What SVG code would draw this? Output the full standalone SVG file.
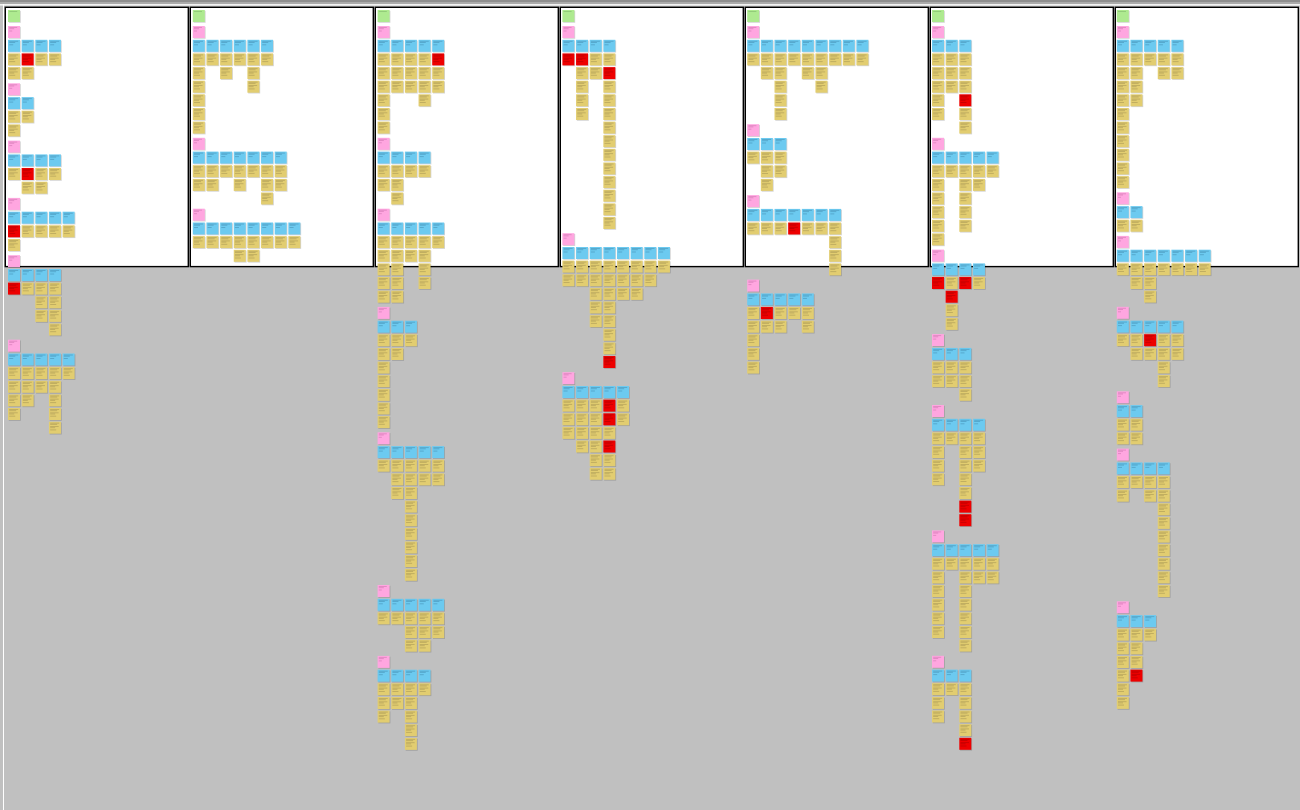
<svg xmlns="http://www.w3.org/2000/svg" xmlns:xlink="http://www.w3.org/1999/xlink" width="1300" height="810" viewBox="0 0 1300 810">
<style>
.s{fill:#000;opacity:.17}
.fy{fill:#e2cd70}.fb{fill:#6ccaf0}.fp{fill:#ffa6e0}.fg{fill:#aeea90}.fr{fill:#ee0000}
.t{fill:none;stroke-width:.45}
.ty{stroke:#5b5030;opacity:.55}.tb{stroke:#1c4d70;opacity:.6}.tp{stroke:#8a3070;opacity:.55}.tg{stroke:#3c6a30;opacity:.55}.tr{stroke:#600000;opacity:.6}
.pan{fill:#fff;stroke:#000;stroke-width:1.4}
</style>
<defs>
<g id="Y"><rect class="s" x=".8" y=".8" width="12" height="12"/><rect class="fy" width="12" height="12"/><path class="t ty" d="M1.2 1.5h9M1.2 2.7h7M1.2 4.8h8.5M1.2 6h5M1.2 8.2h6"/></g>
<g id="R"><rect class="s" x=".8" y=".8" width="12" height="12"/><rect class="fr" width="12" height="12"/><path class="t tr" d="M1.2 1.5h9M1.2 2.7h7M1.2 4.8h8.5M1.2 6h5M1.2 8.2h6"/></g>
<g id="B"><rect class="s" x=".8" y=".8" width="12" height="12"/><rect class="fb" width="12" height="12"/><path class="t tb" d="M1.2 1.5h9M1.2 2.7h6M1.2 5h4"/></g>
<g id="P"><rect class="s" x=".8" y=".8" width="12" height="12"/><rect class="fp" width="12" height="12"/><path class="t tp" d="M1.2 1.5h8M1.2 2.7h5M1.2 5h3"/></g>
<g id="G"><rect class="s" x=".8" y=".8" width="12" height="12"/><rect class="fg" width="12" height="12"/><path class="t tg" d="M1.2 1.5h8"/></g>
</defs>
<rect width="1300" height="810" fill="#c0c0c0"/>
<rect width="1300" height="2" fill="#8e8e8e"/>
<rect y="2" width="1300" height="2.2" fill="#ababab"/>
<rect y="4.2" width="1300" height="1.3" fill="#fff"/>
<rect x="3" y="4" width="1" height="806" fill="#fff"/>
<g id="panels">
<rect class="pan" x="5.3" y="7.3" width="183" height="259.3"/>
<rect class="pan" x="190.3" y="7.3" width="183" height="259.3"/>
<rect class="pan" x="375.3" y="7.3" width="183" height="259.3"/>
<rect class="pan" x="560.3" y="7.3" width="183" height="259.3"/>
<rect class="pan" x="745.3" y="7.3" width="183" height="259.3"/>
<rect class="pan" x="930.3" y="7.3" width="183" height="259.3"/>
<rect class="pan" x="1115.3" y="7.3" width="183" height="259.3"/>
</g>
<g id="connectors"></g>

<!-- Column A -->
<g id="a0" transform="translate(8 10)"><use id="a0g" href="#G"/></g>
<g id="a1" transform="translate(8 26)">
<use id="a1p" href="#P"/>
<use id="a1b0" href="#B" y="13.8"/><use id="a1b1" href="#B" x="13.65" y="13.8"/><use id="a1b2" href="#B" x="27.3" y="13.8"/><use id="a1b3" href="#B" x="40.95" y="13.8"/>
<use id="a1r1c0" href="#Y" y="27.4"/><use id="a1r1c1" href="#R" x="13.65" y="27.4"/><use id="a1r1c2" href="#Y" x="27.3" y="27.4"/><use id="a1r1c3" href="#Y" x="40.95" y="27.4"/>
<use id="a1r2c0" href="#Y" y="41.1"/><use id="a1r2c1" href="#Y" x="13.65" y="41.1"/>
</g>
<g id="a2" transform="translate(8 83.3)">
<use id="a2p" href="#P"/>
<use id="a2b0" href="#B" y="13.8"/><use id="a2b1" href="#B" x="13.65" y="13.8"/>
<use id="a2r1c0" href="#Y" y="27.4"/><use id="a2r1c1" href="#Y" x="13.65" y="27.4"/>
<use id="a2r2c0" href="#Y" y="41.1"/>
</g>
<g id="a3" transform="translate(8 140.6)">
<use id="a3p" href="#P"/>
<use id="a3b0" href="#B" y="13.8"/><use id="a3b1" href="#B" x="13.65" y="13.8"/><use id="a3b2" href="#B" x="27.3" y="13.8"/><use id="a3b3" href="#B" x="40.95" y="13.8"/>
<use id="a3r1c0" href="#Y" y="27.4"/><use id="a3r1c1" href="#R" x="13.65" y="27.4"/><use id="a3r1c2" href="#Y" x="27.3" y="27.4"/><use id="a3r1c3" href="#Y" x="40.95" y="27.4"/>
<use id="a3r2c1" href="#Y" x="13.65" y="41.1"/><use id="a3r2c2" href="#Y" x="27.3" y="41.1"/>
</g>
<g id="a4" transform="translate(8 197.9)">
<use id="a4p" href="#P"/>
<use id="a4b0" href="#B" y="13.8"/><use id="a4b1" href="#B" x="13.65" y="13.8"/><use id="a4b2" href="#B" x="27.3" y="13.8"/><use id="a4b3" href="#B" x="40.95" y="13.8"/><use id="a4b4" href="#B" x="54.6" y="13.8"/>
<use id="a4r1c0" href="#R" y="27.4"/><use id="a4r1c1" href="#Y" x="13.65" y="27.4"/><use id="a4r1c2" href="#Y" x="27.3" y="27.4"/><use id="a4r1c3" href="#Y" x="40.95" y="27.4"/><use id="a4r1c4" href="#Y" x="54.6" y="27.4"/>
<use id="a4r2c0" href="#Y" y="41.1"/>
</g>
<g id="a5" transform="translate(8 255.2)">
<use id="a5p" href="#P"/>
<use id="a5b0" href="#B" y="13.8"/><use id="a5b1" href="#B" x="13.65" y="13.8"/><use id="a5b2" href="#B" x="27.3" y="13.8"/><use id="a5b3" href="#B" x="40.95" y="13.8"/>
<use id="a5r1c0" href="#R" y="27.4"/><use id="a5r1c1" href="#Y" x="13.65" y="27.4"/><use id="a5r1c2" href="#Y" x="27.3" y="27.4"/><use id="a5r1c3" href="#Y" x="40.95" y="27.4"/>
<use id="a5r2c2" href="#Y" x="27.3" y="41.1"/><use id="a5r2c3" href="#Y" x="40.95" y="41.1"/>
<use id="a5r3c2" href="#Y" x="27.3" y="54.7"/><use id="a5r3c3" href="#Y" x="40.95" y="54.7"/>
<use id="a5r4c3" href="#Y" x="40.95" y="68.3"/>
</g>
<g id="a6" transform="translate(8 339.7)">
<use id="a6p" href="#P"/>
<use id="a6b0" href="#B" y="13.8"/><use id="a6b1" href="#B" x="13.65" y="13.8"/><use id="a6b2" href="#B" x="27.3" y="13.8"/><use id="a6b3" href="#B" x="40.95" y="13.8"/><use id="a6b4" href="#B" x="54.6" y="13.8"/>
<use id="a6r1c0" href="#Y" y="27.4"/><use id="a6r1c1" href="#Y" x="13.65" y="27.4"/><use id="a6r1c2" href="#Y" x="27.3" y="27.4"/><use id="a6r1c3" href="#Y" x="40.95" y="27.4"/><use id="a6r1c4" href="#Y" x="54.6" y="27.4"/>
<use id="a6r2c0" href="#Y" y="41.1"/><use id="a6r2c1" href="#Y" x="13.65" y="41.1"/><use id="a6r2c2" href="#Y" x="27.3" y="41.1"/><use id="a6r2c3" href="#Y" x="40.95" y="41.1"/>
<use id="a6r3c0" href="#Y" y="54.7"/><use id="a6r3c1" href="#Y" x="13.65" y="54.7"/><use id="a6r3c3" href="#Y" x="40.95" y="54.7"/>
<use id="a6r4c0" href="#Y" y="68.3"/><use id="a6r4c3" href="#Y" x="40.95" y="68.3"/>
<use id="a6r5c3" href="#Y" x="40.95" y="82"/>
</g>

<!-- Column B -->
<g id="b0" transform="translate(192.8 10)"><use id="b0g" href="#G"/></g>
<g id="b1" transform="translate(192.8 26)">
<use id="b1p" href="#P"/>
<use id="b1b0" href="#B" y="13.8"/><use id="b1b1" href="#B" x="13.65" y="13.8"/><use id="b1b2" href="#B" x="27.3" y="13.8"/><use id="b1b3" href="#B" x="40.95" y="13.8"/><use id="b1b4" href="#B" x="54.6" y="13.8"/><use id="b1b5" href="#B" x="68.25" y="13.8"/>
<use id="b1r1c0" href="#Y" y="27.4"/><use id="b1r1c1" href="#Y" x="13.65" y="27.4"/><use id="b1r1c2" href="#Y" x="27.3" y="27.4"/><use id="b1r1c3" href="#Y" x="40.95" y="27.4"/><use id="b1r1c4" href="#Y" x="54.6" y="27.4"/><use id="b1r1c5" href="#Y" x="68.25" y="27.4"/>
<use id="b1r2c0" href="#Y" y="41.1"/><use id="b1r2c2" href="#Y" x="27.3" y="41.1"/><use id="b1r2c4" href="#Y" x="54.6" y="41.1"/>
<use id="b1r3c0" href="#Y" y="54.7"/><use id="b1r3c4" href="#Y" x="54.6" y="54.7"/>
<use id="b1r4c0" href="#Y" y="68.3"/>
<use id="b1r5c0" href="#Y" y="82"/>
<use id="b1r6c0" href="#Y" y="95.6"/>
</g>
<g id="b2" transform="translate(192.8 137.8)">
<use id="b2p" href="#P"/>
<use id="b2b0" href="#B" y="13.8"/><use id="b2b1" href="#B" x="13.65" y="13.8"/><use id="b2b2" href="#B" x="27.3" y="13.8"/><use id="b2b3" href="#B" x="40.95" y="13.8"/><use id="b2b4" href="#B" x="54.6" y="13.8"/><use id="b2b5" href="#B" x="68.25" y="13.8"/><use id="b2b6" href="#B" x="81.9" y="13.8"/>
<use id="b2r1c0" href="#Y" y="27.4"/><use id="b2r1c1" href="#Y" x="13.65" y="27.4"/><use id="b2r1c2" href="#Y" x="27.3" y="27.4"/><use id="b2r1c3" href="#Y" x="40.95" y="27.4"/><use id="b2r1c4" href="#Y" x="54.6" y="27.4"/><use id="b2r1c5" href="#Y" x="68.25" y="27.4"/><use id="b2r1c6" href="#Y" x="81.9" y="27.4"/>
<use id="b2r2c0" href="#Y" y="41.1"/><use id="b2r2c1" href="#Y" x="13.65" y="41.1"/><use id="b2r2c3" href="#Y" x="40.95" y="41.1"/><use id="b2r2c5" href="#Y" x="68.25" y="41.1"/><use id="b2r2c6" href="#Y" x="81.9" y="41.1"/>
<use id="b2r3c5" href="#Y" x="68.25" y="54.7"/>
</g>
<g id="b3" transform="translate(192.8 208.7)">
<use id="b3p" href="#P"/>
<use id="b3b0" href="#B" y="13.8"/><use id="b3b1" href="#B" x="13.65" y="13.8"/><use id="b3b2" href="#B" x="27.3" y="13.8"/><use id="b3b3" href="#B" x="40.95" y="13.8"/><use id="b3b4" href="#B" x="54.6" y="13.8"/><use id="b3b5" href="#B" x="68.25" y="13.8"/><use id="b3b6" href="#B" x="81.9" y="13.8"/><use id="b3b7" href="#B" x="95.55" y="13.8"/>
<use id="b3r1c0" href="#Y" y="27.4"/><use id="b3r1c1" href="#Y" x="13.65" y="27.4"/><use id="b3r1c2" href="#Y" x="27.3" y="27.4"/><use id="b3r1c3" href="#Y" x="40.95" y="27.4"/><use id="b3r1c4" href="#Y" x="54.6" y="27.4"/><use id="b3r1c5" href="#Y" x="68.25" y="27.4"/><use id="b3r1c6" href="#Y" x="81.9" y="27.4"/><use id="b3r1c7" href="#Y" x="95.55" y="27.4"/>
<use id="b3r2c3" href="#Y" x="40.95" y="41.1"/><use id="b3r2c4" href="#Y" x="54.6" y="41.1"/>
</g>

<!-- Column C -->
<g id="c0" transform="translate(377.6 10)"><use id="c0g" href="#G"/></g>
<g id="c1" transform="translate(377.6 26)">
<use id="c1p" href="#P"/>
<use id="c1b0" href="#B" y="13.8"/><use id="c1b1" href="#B" x="13.65" y="13.8"/><use id="c1b2" href="#B" x="27.3" y="13.8"/><use id="c1b3" href="#B" x="40.95" y="13.8"/><use id="c1b4" href="#B" x="54.6" y="13.8"/>
<use id="c1r1c0" href="#Y" y="27.4"/><use id="c1r1c1" href="#Y" x="13.65" y="27.4"/><use id="c1r1c2" href="#Y" x="27.3" y="27.4"/><use id="c1r1c3" href="#Y" x="40.95" y="27.4"/><use id="c1r1c4" href="#R" x="54.6" y="27.4"/>
<use id="c1r2c0" href="#Y" y="41.1"/><use id="c1r2c1" href="#Y" x="13.65" y="41.1"/><use id="c1r2c2" href="#Y" x="27.3" y="41.1"/><use id="c1r2c3" href="#Y" x="40.95" y="41.1"/><use id="c1r2c4" href="#Y" x="54.6" y="41.1"/>
<use id="c1r3c0" href="#Y" y="54.7"/><use id="c1r3c1" href="#Y" x="13.65" y="54.7"/><use id="c1r3c2" href="#Y" x="27.3" y="54.7"/><use id="c1r3c3" href="#Y" x="40.95" y="54.7"/><use id="c1r3c4" href="#Y" x="54.6" y="54.7"/>
<use id="c1r4c0" href="#Y" y="68.3"/><use id="c1r4c3" href="#Y" x="40.95" y="68.3"/>
<use id="c1r5c0" href="#Y" y="82"/>
<use id="c1r6c0" href="#Y" y="95.6"/>
</g>
<g id="c2" transform="translate(377.6 137.8)">
<use id="c2p" href="#P"/>
<use id="c2b0" href="#B" y="13.8"/><use id="c2b1" href="#B" x="13.65" y="13.8"/><use id="c2b2" href="#B" x="27.3" y="13.8"/><use id="c2b3" href="#B" x="40.95" y="13.8"/>
<use id="c2r1c0" href="#Y" y="27.4"/><use id="c2r1c1" href="#Y" x="13.65" y="27.4"/><use id="c2r1c2" href="#Y" x="27.3" y="27.4"/><use id="c2r1c3" href="#Y" x="40.95" y="27.4"/>
<use id="c2r2c0" href="#Y" y="41.1"/><use id="c2r2c1" href="#Y" x="13.65" y="41.1"/>
<use id="c2r3c1" href="#Y" x="13.65" y="54.7"/>
</g>
<g id="c3" transform="translate(377.6 208.7)">
<use id="c3p" href="#P"/>
<use id="c3b0" href="#B" y="13.8"/><use id="c3b1" href="#B" x="13.65" y="13.8"/><use id="c3b2" href="#B" x="27.3" y="13.8"/><use id="c3b3" href="#B" x="40.95" y="13.8"/><use id="c3b4" href="#B" x="54.6" y="13.8"/>
<use id="c3r1c0" href="#Y" y="27.4"/><use id="c3r1c1" href="#Y" x="13.65" y="27.4"/><use id="c3r1c2" href="#Y" x="27.3" y="27.4"/><use id="c3r1c3" href="#Y" x="40.95" y="27.4"/><use id="c3r1c4" href="#Y" x="54.6" y="27.4"/>
<use id="c3r2c0" href="#Y" y="41.1"/><use id="c3r2c1" href="#Y" x="13.65" y="41.1"/><use id="c3r2c2" href="#Y" x="27.3" y="41.1"/><use id="c3r2c3" href="#Y" x="40.95" y="41.1"/>
<use id="c3r3c0" href="#Y" y="54.7"/><use id="c3r3c1" href="#Y" x="13.65" y="54.7"/><use id="c3r3c3" href="#Y" x="40.95" y="54.7"/>
<use id="c3r4c0" href="#Y" y="68.3"/><use id="c3r4c1" href="#Y" x="13.65" y="68.3"/><use id="c3r4c3" href="#Y" x="40.95" y="68.3"/>
<use id="c3r5c0" href="#Y" y="82"/><use id="c3r5c1" href="#Y" x="13.65" y="82"/>
</g>
<g id="c4" transform="translate(377.6 306.9)">
<use id="c4p" href="#P"/>
<use id="c4b0" href="#B" y="13.8"/><use id="c4b1" href="#B" x="13.65" y="13.8"/><use id="c4b2" href="#B" x="27.3" y="13.8"/>
<use id="c4r1c0" href="#Y" y="27.4"/><use id="c4r1c1" href="#Y" x="13.65" y="27.4"/><use id="c4r1c2" href="#Y" x="27.3" y="27.4"/>
<use id="c4r2c0" href="#Y" y="41.1"/><use id="c4r2c1" href="#Y" x="13.65" y="41.1"/>
<use id="c4r3c0" href="#Y" y="54.7"/>
<use id="c4r4c0" href="#Y" y="68.3"/>
<use id="c4r5c0" href="#Y" y="82"/>
<use id="c4r6c0" href="#Y" y="95.6"/>
<use id="c4r7c0" href="#Y" y="109.2"/>
</g>
<g id="c5" transform="translate(377.6 432.3)">
<use id="c5p" href="#P"/>
<use id="c5b0" href="#B" y="13.8"/><use id="c5b1" href="#B" x="13.65" y="13.8"/><use id="c5b2" href="#B" x="27.3" y="13.8"/><use id="c5b3" href="#B" x="40.95" y="13.8"/><use id="c5b4" href="#B" x="54.6" y="13.8"/>
<use id="c5r1c0" href="#Y" y="27.4"/><use id="c5r1c1" href="#Y" x="13.65" y="27.4"/><use id="c5r1c2" href="#Y" x="27.3" y="27.4"/><use id="c5r1c3" href="#Y" x="40.95" y="27.4"/><use id="c5r1c4" href="#Y" x="54.6" y="27.4"/>
<use id="c5r2c1" href="#Y" x="13.65" y="41.1"/><use id="c5r2c2" href="#Y" x="27.3" y="41.1"/><use id="c5r2c3" href="#Y" x="40.95" y="41.1"/><use id="c5r2c4" href="#Y" x="54.6" y="41.1"/>
<use id="c5r3c1" href="#Y" x="13.65" y="54.7"/><use id="c5r3c2" href="#Y" x="27.3" y="54.7"/>
<use id="c5r4c2" href="#Y" x="27.3" y="68.3"/>
<use id="c5r5c2" href="#Y" x="27.3" y="82"/>
<use id="c5r6c2" href="#Y" x="27.3" y="95.6"/>
<use id="c5r7c2" href="#Y" x="27.3" y="109.2"/>
<use id="c5r8c2" href="#Y" x="27.3" y="122.8"/>
<use id="c5r9c2" href="#Y" x="27.3" y="136.5"/>
</g>
<g id="c6" transform="translate(377.6 585)">
<use id="c6p" href="#P"/>
<use id="c6b0" href="#B" y="13.8"/><use id="c6b1" href="#B" x="13.65" y="13.8"/><use id="c6b2" href="#B" x="27.3" y="13.8"/><use id="c6b3" href="#B" x="40.95" y="13.8"/><use id="c6b4" href="#B" x="54.6" y="13.8"/>
<use id="c6r1c0" href="#Y" y="27.4"/><use id="c6r1c1" href="#Y" x="13.65" y="27.4"/><use id="c6r1c2" href="#Y" x="27.3" y="27.4"/><use id="c6r1c3" href="#Y" x="40.95" y="27.4"/><use id="c6r1c4" href="#Y" x="54.6" y="27.4"/>
<use id="c6r2c2" href="#Y" x="27.3" y="41.1"/><use id="c6r2c3" href="#Y" x="40.95" y="41.1"/><use id="c6r2c4" href="#Y" x="54.6" y="41.1"/>
<use id="c6r3c2" href="#Y" x="27.3" y="54.7"/><use id="c6r3c3" href="#Y" x="40.95" y="54.7"/>
</g>
<g id="c7" transform="translate(377.6 655.9)">
<use id="c7p" href="#P"/>
<use id="c7b0" href="#B" y="13.8"/><use id="c7b1" href="#B" x="13.65" y="13.8"/><use id="c7b2" href="#B" x="27.3" y="13.8"/><use id="c7b3" href="#B" x="40.95" y="13.8"/>
<use id="c7r1c0" href="#Y" y="27.4"/><use id="c7r1c1" href="#Y" x="13.65" y="27.4"/><use id="c7r1c2" href="#Y" x="27.3" y="27.4"/><use id="c7r1c3" href="#Y" x="40.95" y="27.4"/>
<use id="c7r2c0" href="#Y" y="41.1"/><use id="c7r2c1" href="#Y" x="13.65" y="41.1"/><use id="c7r2c2" href="#Y" x="27.3" y="41.1"/>
<use id="c7r3c0" href="#Y" y="54.7"/><use id="c7r3c2" href="#Y" x="27.3" y="54.7"/>
<use id="c7r4c2" href="#Y" x="27.3" y="68.3"/>
<use id="c7r5c2" href="#Y" x="27.3" y="82"/>
</g>

<!-- Column D -->
<g id="d0" transform="translate(562.4 10)"><use id="d0g" href="#G"/></g>
<g id="d1" transform="translate(562.4 26)">
<use id="d1p" href="#P"/>
<use id="d1b0" href="#B" y="13.8"/><use id="d1b1" href="#B" x="13.65" y="13.8"/><use id="d1b2" href="#B" x="27.3" y="13.8"/><use id="d1b3" href="#B" x="40.95" y="13.8"/>
<use id="d1r1c0" href="#R" y="27.4"/><use id="d1r1c1" href="#R" x="13.65" y="27.4"/><use id="d1r1c2" href="#Y" x="27.3" y="27.4"/><use id="d1r1c3" href="#Y" x="40.95" y="27.4"/>
<use id="d1r2c1" href="#Y" x="13.65" y="41.1"/><use id="d1r2c2" href="#Y" x="27.3" y="41.1"/><use id="d1r2c3" href="#R" x="40.95" y="41.1"/>
<use id="d1r3c1" href="#Y" x="13.65" y="54.7"/><use id="d1r3c3" href="#Y" x="40.95" y="54.7"/>
<use id="d1r4c1" href="#Y" x="13.65" y="68.3"/><use id="d1r4c3" href="#Y" x="40.95" y="68.3"/>
<use id="d1r5c1" href="#Y" x="13.65" y="82"/><use id="d1r5c3" href="#Y" x="40.95" y="82"/>
<use id="d1r6c3" href="#Y" x="40.95" y="95.6"/>
<use id="d1r7c3" href="#Y" x="40.95" y="109.2"/>
<use id="d1r8c3" href="#Y" x="40.95" y="122.8"/>
<use id="d1r9c3" href="#Y" x="40.95" y="136.5"/>
<use id="d1r10c3" href="#Y" x="40.95" y="150.1"/>
<use id="d1r11c3" href="#Y" x="40.95" y="163.7"/>
<use id="d1r12c3" href="#Y" x="40.95" y="177.4"/>
<use id="d1r13c3" href="#Y" x="40.95" y="191"/>
</g>
<g id="d2" transform="translate(562.4 233.2)">
<use id="d2p" href="#P"/>
<use id="d2b0" href="#B" y="13.8"/><use id="d2b1" href="#B" x="13.65" y="13.8"/><use id="d2b2" href="#B" x="27.3" y="13.8"/><use id="d2b3" href="#B" x="40.95" y="13.8"/><use id="d2b4" href="#B" x="54.6" y="13.8"/><use id="d2b5" href="#B" x="68.25" y="13.8"/><use id="d2b6" href="#B" x="81.9" y="13.8"/><use id="d2b7" href="#B" x="95.55" y="13.8"/>
<use id="d2r1c0" href="#Y" y="27.4"/><use id="d2r1c1" href="#Y" x="13.65" y="27.4"/><use id="d2r1c2" href="#Y" x="27.3" y="27.4"/><use id="d2r1c3" href="#Y" x="40.95" y="27.4"/><use id="d2r1c4" href="#Y" x="54.6" y="27.4"/><use id="d2r1c5" href="#Y" x="68.25" y="27.4"/><use id="d2r1c6" href="#Y" x="81.9" y="27.4"/><use id="d2r1c7" href="#Y" x="95.55" y="27.4"/>
<use id="d2r2c0" href="#Y" y="41.1"/><use id="d2r2c1" href="#Y" x="13.65" y="41.1"/><use id="d2r2c2" href="#Y" x="27.3" y="41.1"/><use id="d2r2c3" href="#Y" x="40.95" y="41.1"/><use id="d2r2c4" href="#Y" x="54.6" y="41.1"/><use id="d2r2c5" href="#Y" x="68.25" y="41.1"/><use id="d2r2c6" href="#Y" x="81.9" y="41.1"/>
<use id="d2r3c2" href="#Y" x="27.3" y="54.7"/><use id="d2r3c3" href="#Y" x="40.95" y="54.7"/><use id="d2r3c4" href="#Y" x="54.6" y="54.7"/><use id="d2r3c5" href="#Y" x="68.25" y="54.7"/>
<use id="d2r4c2" href="#Y" x="27.3" y="68.3"/><use id="d2r4c3" href="#Y" x="40.95" y="68.3"/>
<use id="d2r5c2" href="#Y" x="27.3" y="82"/><use id="d2r5c3" href="#Y" x="40.95" y="82"/>
<use id="d2r6c3" href="#Y" x="40.95" y="95.6"/>
<use id="d2r7c3" href="#Y" x="40.95" y="109.2"/>
<use id="d2r8c3" href="#R" x="40.95" y="122.8"/>
</g>
<g id="d3" transform="translate(562.4 372.2)">
<use id="d3p" href="#P"/>
<use id="d3b0" href="#B" y="13.8"/><use id="d3b1" href="#B" x="13.65" y="13.8"/><use id="d3b2" href="#B" x="27.3" y="13.8"/><use id="d3b3" href="#B" x="40.95" y="13.8"/><use id="d3b4" href="#B" x="54.6" y="13.8"/>
<use id="d3r1c0" href="#Y" y="27.4"/><use id="d3r1c1" href="#Y" x="13.65" y="27.4"/><use id="d3r1c2" href="#Y" x="27.3" y="27.4"/><use id="d3r1c3" href="#R" x="40.95" y="27.4"/><use id="d3r1c4" href="#Y" x="54.6" y="27.4"/>
<use id="d3r2c0" href="#Y" y="41.1"/><use id="d3r2c1" href="#Y" x="13.65" y="41.1"/><use id="d3r2c2" href="#Y" x="27.3" y="41.1"/><use id="d3r2c3" href="#R" x="40.95" y="41.1"/><use id="d3r2c4" href="#Y" x="54.6" y="41.1"/>
<use id="d3r3c0" href="#Y" y="54.7"/><use id="d3r3c1" href="#Y" x="13.65" y="54.7"/><use id="d3r3c2" href="#Y" x="27.3" y="54.7"/><use id="d3r3c3" href="#Y" x="40.95" y="54.7"/>
<use id="d3r4c1" href="#Y" x="13.65" y="68.3"/><use id="d3r4c2" href="#Y" x="27.3" y="68.3"/><use id="d3r4c3" href="#R" x="40.95" y="68.3"/>
<use id="d3r5c2" href="#Y" x="27.3" y="82"/><use id="d3r5c3" href="#Y" x="40.95" y="82"/>
<use id="d3r6c2" href="#Y" x="27.3" y="95.6"/><use id="d3r6c3" href="#Y" x="40.95" y="95.6"/>
</g>

<!-- Column E -->
<g id="e0" transform="translate(747.2 10)"><use id="e0g" href="#G"/></g>
<g id="e1" transform="translate(747.2 26)">
<use id="e1p" href="#P"/>
<use id="e1b0" href="#B" y="13.8"/><use id="e1b1" href="#B" x="13.65" y="13.8"/><use id="e1b2" href="#B" x="27.3" y="13.8"/><use id="e1b3" href="#B" x="40.95" y="13.8"/><use id="e1b4" href="#B" x="54.6" y="13.8"/><use id="e1b5" href="#B" x="68.25" y="13.8"/><use id="e1b6" href="#B" x="81.9" y="13.8"/><use id="e1b7" href="#B" x="95.55" y="13.8"/><use id="e1b8" href="#B" x="109.2" y="13.8"/>
<use id="e1r1c0" href="#Y" y="27.4"/><use id="e1r1c1" href="#Y" x="13.65" y="27.4"/><use id="e1r1c2" href="#Y" x="27.3" y="27.4"/><use id="e1r1c3" href="#Y" x="40.95" y="27.4"/><use id="e1r1c4" href="#Y" x="54.6" y="27.4"/><use id="e1r1c5" href="#Y" x="68.25" y="27.4"/><use id="e1r1c6" href="#Y" x="81.9" y="27.4"/><use id="e1r1c7" href="#Y" x="95.55" y="27.4"/><use id="e1r1c8" href="#Y" x="109.2" y="27.4"/>
<use id="e1r2c1" href="#Y" x="13.65" y="41.1"/><use id="e1r2c2" href="#Y" x="27.3" y="41.1"/><use id="e1r2c4" href="#Y" x="54.6" y="41.1"/><use id="e1r2c5" href="#Y" x="68.25" y="41.1"/>
<use id="e1r3c2" href="#Y" x="27.3" y="54.7"/><use id="e1r3c5" href="#Y" x="68.25" y="54.7"/>
<use id="e1r4c2" href="#Y" x="27.3" y="68.3"/>
<use id="e1r5c2" href="#Y" x="27.3" y="82"/>
</g>
<g id="e2" transform="translate(747.2 124.2)">
<use id="e2p" href="#P"/>
<use id="e2b0" href="#B" y="13.8"/><use id="e2b1" href="#B" x="13.65" y="13.8"/><use id="e2b2" href="#B" x="27.3" y="13.8"/>
<use id="e2r1c0" href="#Y" y="27.4"/><use id="e2r1c1" href="#Y" x="13.65" y="27.4"/><use id="e2r1c2" href="#Y" x="27.3" y="27.4"/>
<use id="e2r2c1" href="#Y" x="13.65" y="41.1"/><use id="e2r2c2" href="#Y" x="27.3" y="41.1"/>
<use id="e2r3c1" href="#Y" x="13.65" y="54.7"/>
</g>
<g id="e3" transform="translate(747.2 195.1)">
<use id="e3p" href="#P"/>
<use id="e3b0" href="#B" y="13.8"/><use id="e3b1" href="#B" x="13.65" y="13.8"/><use id="e3b2" href="#B" x="27.3" y="13.8"/><use id="e3b3" href="#B" x="40.95" y="13.8"/><use id="e3b4" href="#B" x="54.6" y="13.8"/><use id="e3b5" href="#B" x="68.25" y="13.8"/><use id="e3b6" href="#B" x="81.9" y="13.8"/>
<use id="e3r1c0" href="#Y" y="27.4"/><use id="e3r1c1" href="#Y" x="13.65" y="27.4"/><use id="e3r1c2" href="#Y" x="27.3" y="27.4"/><use id="e3r1c3" href="#R" x="40.95" y="27.4"/><use id="e3r1c4" href="#Y" x="54.6" y="27.4"/><use id="e3r1c5" href="#Y" x="68.25" y="27.4"/><use id="e3r1c6" href="#Y" x="81.9" y="27.4"/>
<use id="e3r2c6" href="#Y" x="81.9" y="41.1"/>
<use id="e3r3c6" href="#Y" x="81.9" y="54.7"/>
<use id="e3r4c6" href="#Y" x="81.9" y="68.3"/>
</g>
<g id="e4" transform="translate(747.2 279.6)">
<use id="e4p" href="#P"/>
<use id="e4b0" href="#B" y="13.8"/><use id="e4b1" href="#B" x="13.65" y="13.8"/><use id="e4b2" href="#B" x="27.3" y="13.8"/><use id="e4b3" href="#B" x="40.95" y="13.8"/><use id="e4b4" href="#B" x="54.6" y="13.8"/>
<use id="e4r1c0" href="#Y" y="27.4"/><use id="e4r1c1" href="#R" x="13.65" y="27.4"/><use id="e4r1c2" href="#Y" x="27.3" y="27.4"/><use id="e4r1c3" href="#Y" x="40.95" y="27.4"/><use id="e4r1c4" href="#Y" x="54.6" y="27.4"/>
<use id="e4r2c0" href="#Y" y="41.1"/><use id="e4r2c1" href="#Y" x="13.65" y="41.1"/><use id="e4r2c2" href="#Y" x="27.3" y="41.1"/><use id="e4r2c4" href="#Y" x="54.6" y="41.1"/>
<use id="e4r3c0" href="#Y" y="54.7"/>
<use id="e4r4c0" href="#Y" y="68.3"/>
<use id="e4r5c0" href="#Y" y="82"/>
</g>

<!-- Column F -->
<g id="f0" transform="translate(932 10)"><use id="f0g" href="#G"/></g>
<g id="f1" transform="translate(932 26)">
<use id="f1p" href="#P"/>
<use id="f1b0" href="#B" y="13.8"/><use id="f1b1" href="#B" x="13.65" y="13.8"/><use id="f1b2" href="#B" x="27.3" y="13.8"/>
<use id="f1r1c0" href="#Y" y="27.4"/><use id="f1r1c1" href="#Y" x="13.65" y="27.4"/><use id="f1r1c2" href="#Y" x="27.3" y="27.4"/>
<use id="f1r2c0" href="#Y" y="41.1"/><use id="f1r2c1" href="#Y" x="13.65" y="41.1"/><use id="f1r2c2" href="#Y" x="27.3" y="41.1"/>
<use id="f1r3c0" href="#Y" y="54.7"/><use id="f1r3c1" href="#Y" x="13.65" y="54.7"/><use id="f1r3c2" href="#Y" x="27.3" y="54.7"/>
<use id="f1r4c0" href="#Y" y="68.3"/><use id="f1r4c2" href="#R" x="27.3" y="68.3"/>
<use id="f1r5c0" href="#Y" y="82"/><use id="f1r5c2" href="#Y" x="27.3" y="82"/>
<use id="f1r6c2" href="#Y" x="27.3" y="95.6"/>
</g>
<g id="f2" transform="translate(932 137.8)">
<use id="f2p" href="#P"/>
<use id="f2b0" href="#B" y="13.8"/><use id="f2b1" href="#B" x="13.65" y="13.8"/><use id="f2b2" href="#B" x="27.3" y="13.8"/><use id="f2b3" href="#B" x="40.95" y="13.8"/><use id="f2b4" href="#B" x="54.6" y="13.8"/>
<use id="f2r1c0" href="#Y" y="27.4"/><use id="f2r1c1" href="#Y" x="13.65" y="27.4"/><use id="f2r1c2" href="#Y" x="27.3" y="27.4"/><use id="f2r1c3" href="#Y" x="40.95" y="27.4"/><use id="f2r1c4" href="#Y" x="54.6" y="27.4"/>
<use id="f2r2c0" href="#Y" y="41.1"/><use id="f2r2c2" href="#Y" x="27.3" y="41.1"/><use id="f2r2c3" href="#Y" x="40.95" y="41.1"/>
<use id="f2r3c0" href="#Y" y="54.7"/><use id="f2r3c2" href="#Y" x="27.3" y="54.7"/>
<use id="f2r4c0" href="#Y" y="68.3"/><use id="f2r4c2" href="#Y" x="27.3" y="68.3"/>
<use id="f2r5c0" href="#Y" y="82"/><use id="f2r5c2" href="#Y" x="27.3" y="82"/>
<use id="f2r6c0" href="#Y" y="95.6"/>
</g>
<g id="f3" transform="translate(932 249.6)">
<use id="f3p" href="#P"/>
<use id="f3b0" href="#B" y="13.8"/><use id="f3b1" href="#B" x="13.65" y="13.8"/><use id="f3b2" href="#B" x="27.3" y="13.8"/><use id="f3b3" href="#B" x="40.95" y="13.8"/>
<use id="f3r1c0" href="#R" y="27.4"/><use id="f3r1c1" href="#Y" x="13.65" y="27.4"/><use id="f3r1c2" href="#R" x="27.3" y="27.4"/><use id="f3r1c3" href="#Y" x="40.95" y="27.4"/>
<use id="f3r2c1" href="#R" x="13.65" y="41.1"/>
<use id="f3r3c1" href="#Y" x="13.65" y="54.7"/>
<use id="f3r4c1" href="#Y" x="13.65" y="68.3"/>
</g>
<g id="f4" transform="translate(932 334.1)">
<use id="f4p" href="#P"/>
<use id="f4b0" href="#B" y="13.8"/><use id="f4b1" href="#B" x="13.65" y="13.8"/><use id="f4b2" href="#B" x="27.3" y="13.8"/>
<use id="f4r1c0" href="#Y" y="27.4"/><use id="f4r1c1" href="#Y" x="13.65" y="27.4"/><use id="f4r1c2" href="#Y" x="27.3" y="27.4"/>
<use id="f4r2c0" href="#Y" y="41.1"/><use id="f4r2c1" href="#Y" x="13.65" y="41.1"/><use id="f4r2c2" href="#Y" x="27.3" y="41.1"/>
<use id="f4r3c2" href="#Y" x="27.3" y="54.7"/>
</g>
<g id="f5" transform="translate(932 405)">
<use id="f5p" href="#P"/>
<use id="f5b0" href="#B" y="13.8"/><use id="f5b1" href="#B" x="13.65" y="13.8"/><use id="f5b2" href="#B" x="27.3" y="13.8"/><use id="f5b3" href="#B" x="40.95" y="13.8"/>
<use id="f5r1c0" href="#Y" y="27.4"/><use id="f5r1c1" href="#Y" x="13.65" y="27.4"/><use id="f5r1c2" href="#Y" x="27.3" y="27.4"/><use id="f5r1c3" href="#Y" x="40.95" y="27.4"/>
<use id="f5r2c0" href="#Y" y="41.1"/><use id="f5r2c2" href="#Y" x="27.3" y="41.1"/><use id="f5r2c3" href="#Y" x="40.95" y="41.1"/>
<use id="f5r3c0" href="#Y" y="54.7"/><use id="f5r3c2" href="#Y" x="27.3" y="54.7"/><use id="f5r3c3" href="#Y" x="40.95" y="54.7"/>
<use id="f5r4c0" href="#Y" y="68.3"/><use id="f5r4c2" href="#Y" x="27.3" y="68.3"/>
<use id="f5r5c2" href="#Y" x="27.3" y="82"/>
<use id="f5r6c2" href="#R" x="27.3" y="95.6"/>
<use id="f5r7c2" href="#R" x="27.3" y="109.2"/>
</g>
<g id="f6" transform="translate(932 530.4)">
<use id="f6p" href="#P"/>
<use id="f6b0" href="#B" y="13.8"/><use id="f6b1" href="#B" x="13.65" y="13.8"/><use id="f6b2" href="#B" x="27.3" y="13.8"/><use id="f6b3" href="#B" x="40.95" y="13.8"/><use id="f6b4" href="#B" x="54.6" y="13.8"/>
<use id="f6r1c0" href="#Y" y="27.4"/><use id="f6r1c1" href="#Y" x="13.65" y="27.4"/><use id="f6r1c2" href="#Y" x="27.3" y="27.4"/><use id="f6r1c3" href="#Y" x="40.95" y="27.4"/><use id="f6r1c4" href="#Y" x="54.6" y="27.4"/>
<use id="f6r2c0" href="#Y" y="41.1"/><use id="f6r2c2" href="#Y" x="27.3" y="41.1"/><use id="f6r2c3" href="#Y" x="40.95" y="41.1"/><use id="f6r2c4" href="#Y" x="54.6" y="41.1"/>
<use id="f6r3c0" href="#Y" y="54.7"/><use id="f6r3c2" href="#Y" x="27.3" y="54.7"/>
<use id="f6r4c0" href="#Y" y="68.3"/><use id="f6r4c2" href="#Y" x="27.3" y="68.3"/>
<use id="f6r5c0" href="#Y" y="82"/><use id="f6r5c2" href="#Y" x="27.3" y="82"/>
<use id="f6r6c0" href="#Y" y="95.6"/><use id="f6r6c2" href="#Y" x="27.3" y="95.6"/>
<use id="f6r7c2" href="#Y" x="27.3" y="109.2"/>
</g>
<g id="f7" transform="translate(932 655.8)">
<use id="f7p" href="#P"/>
<use id="f7b0" href="#B" y="13.8"/><use id="f7b1" href="#B" x="13.65" y="13.8"/><use id="f7b2" href="#B" x="27.3" y="13.8"/>
<use id="f7r1c0" href="#Y" y="27.4"/><use id="f7r1c1" href="#Y" x="13.65" y="27.4"/><use id="f7r1c2" href="#Y" x="27.3" y="27.4"/>
<use id="f7r2c0" href="#Y" y="41.1"/><use id="f7r2c2" href="#Y" x="27.3" y="41.1"/>
<use id="f7r3c0" href="#Y" y="54.7"/><use id="f7r3c2" href="#Y" x="27.3" y="54.7"/>
<use id="f7r4c2" href="#Y" x="27.3" y="68.3"/>
<use id="f7r5c2" href="#R" x="27.3" y="82"/>
</g>

<!-- Column G -->
<g id="g0" transform="translate(1116.8 10)"><use id="g0g" href="#G"/></g>
<g id="g1" transform="translate(1116.8 26)">
<use id="g1p" href="#P"/>
<use id="g1b0" href="#B" y="13.8"/><use id="g1b1" href="#B" x="13.65" y="13.8"/><use id="g1b2" href="#B" x="27.3" y="13.8"/><use id="g1b3" href="#B" x="40.95" y="13.8"/><use id="g1b4" href="#B" x="54.6" y="13.8"/>
<use id="g1r1c0" href="#Y" y="27.4"/><use id="g1r1c1" href="#Y" x="13.65" y="27.4"/><use id="g1r1c2" href="#Y" x="27.3" y="27.4"/><use id="g1r1c3" href="#Y" x="40.95" y="27.4"/><use id="g1r1c4" href="#Y" x="54.6" y="27.4"/>
<use id="g1r2c0" href="#Y" y="41.1"/><use id="g1r2c1" href="#Y" x="13.65" y="41.1"/><use id="g1r2c3" href="#Y" x="40.95" y="41.1"/><use id="g1r2c4" href="#Y" x="54.6" y="41.1"/>
<use id="g1r3c0" href="#Y" y="54.7"/><use id="g1r3c1" href="#Y" x="13.65" y="54.7"/>
<use id="g1r4c0" href="#Y" y="68.3"/><use id="g1r4c1" href="#Y" x="13.65" y="68.3"/>
<use id="g1r5c0" href="#Y" y="82"/>
<use id="g1r6c0" href="#Y" y="95.6"/>
<use id="g1r7c0" href="#Y" y="109.2"/>
<use id="g1r8c0" href="#Y" y="122.8"/>
<use id="g1r9c0" href="#Y" y="136.5"/>
<use id="g1r10c0" href="#Y" y="150.1"/>
</g>
<g id="g2" transform="translate(1116.8 192.3)">
<use id="g2p" href="#P"/>
<use id="g2b0" href="#B" y="13.8"/><use id="g2b1" href="#B" x="13.65" y="13.8"/>
<use id="g2r1c0" href="#Y" y="27.4"/><use id="g2r1c1" href="#Y" x="13.65" y="27.4"/>
</g>
<g id="g3" transform="translate(1116.8 235.9)">
<use id="g3p" href="#P"/>
<use id="g3b0" href="#B" y="13.8"/><use id="g3b1" href="#B" x="13.65" y="13.8"/><use id="g3b2" href="#B" x="27.3" y="13.8"/><use id="g3b3" href="#B" x="40.95" y="13.8"/><use id="g3b4" href="#B" x="54.6" y="13.8"/><use id="g3b5" href="#B" x="68.25" y="13.8"/><use id="g3b6" href="#B" x="81.9" y="13.8"/>
<use id="g3r1c0" href="#Y" y="27.4"/><use id="g3r1c1" href="#Y" x="13.65" y="27.4"/><use id="g3r1c2" href="#Y" x="27.3" y="27.4"/><use id="g3r1c3" href="#Y" x="40.95" y="27.4"/><use id="g3r1c4" href="#Y" x="54.6" y="27.4"/><use id="g3r1c5" href="#Y" x="68.25" y="27.4"/><use id="g3r1c6" href="#Y" x="81.9" y="27.4"/>
<use id="g3r2c1" href="#Y" x="13.65" y="41.1"/><use id="g3r2c2" href="#Y" x="27.3" y="41.1"/>
<use id="g3r3c2" href="#Y" x="27.3" y="54.7"/>
</g>
<g id="g4" transform="translate(1116.8 306.8)">
<use id="g4p" href="#P"/>
<use id="g4b0" href="#B" y="13.8"/><use id="g4b1" href="#B" x="13.65" y="13.8"/><use id="g4b2" href="#B" x="27.3" y="13.8"/><use id="g4b3" href="#B" x="40.95" y="13.8"/><use id="g4b4" href="#B" x="54.6" y="13.8"/>
<use id="g4r1c0" href="#Y" y="27.4"/><use id="g4r1c1" href="#Y" x="13.65" y="27.4"/><use id="g4r1c2" href="#R" x="27.3" y="27.4"/><use id="g4r1c3" href="#Y" x="40.95" y="27.4"/><use id="g4r1c4" href="#Y" x="54.6" y="27.4"/>
<use id="g4r2c1" href="#Y" x="13.65" y="41.1"/><use id="g4r2c2" href="#Y" x="27.3" y="41.1"/><use id="g4r2c3" href="#Y" x="40.95" y="41.1"/><use id="g4r2c4" href="#Y" x="54.6" y="41.1"/>
<use id="g4r3c3" href="#Y" x="40.95" y="54.7"/>
<use id="g4r4c3" href="#Y" x="40.95" y="68.3"/>
</g>
<g id="g5" transform="translate(1116.8 391.3)">
<use id="g5p" href="#P"/>
<use id="g5b0" href="#B" y="13.8"/><use id="g5b1" href="#B" x="13.65" y="13.8"/>
<use id="g5r1c0" href="#Y" y="27.4"/><use id="g5r1c1" href="#Y" x="13.65" y="27.4"/>
<use id="g5r2c0" href="#Y" y="41.1"/><use id="g5r2c1" href="#Y" x="13.65" y="41.1"/>
</g>
<g id="g6" transform="translate(1116.8 448.6)">
<use id="g6p" href="#P"/>
<use id="g6b0" href="#B" y="13.8"/><use id="g6b1" href="#B" x="13.65" y="13.8"/><use id="g6b2" href="#B" x="27.3" y="13.8"/><use id="g6b3" href="#B" x="40.95" y="13.8"/>
<use id="g6r1c0" href="#Y" y="27.4"/><use id="g6r1c1" href="#Y" x="13.65" y="27.4"/><use id="g6r1c2" href="#Y" x="27.3" y="27.4"/><use id="g6r1c3" href="#Y" x="40.95" y="27.4"/>
<use id="g6r2c0" href="#Y" y="41.1"/><use id="g6r2c2" href="#Y" x="27.3" y="41.1"/><use id="g6r2c3" href="#Y" x="40.95" y="41.1"/>
<use id="g6r3c3" href="#Y" x="40.95" y="54.7"/>
<use id="g6r4c3" href="#Y" x="40.95" y="68.3"/>
<use id="g6r5c3" href="#Y" x="40.95" y="82"/>
<use id="g6r6c3" href="#Y" x="40.95" y="95.6"/>
<use id="g6r7c3" href="#Y" x="40.95" y="109.2"/>
<use id="g6r8c3" href="#Y" x="40.95" y="122.8"/>
<use id="g6r9c3" href="#Y" x="40.95" y="136.5"/>
</g>
<g id="g7" transform="translate(1116.8 601.3)">
<use id="g7p" href="#P"/>
<use id="g7b0" href="#B" y="13.8"/><use id="g7b1" href="#B" x="13.65" y="13.8"/><use id="g7b2" href="#B" x="27.3" y="13.8"/>
<use id="g7r1c0" href="#Y" y="27.4"/><use id="g7r1c1" href="#Y" x="13.65" y="27.4"/><use id="g7r1c2" href="#Y" x="27.3" y="27.4"/>
<use id="g7r2c0" href="#Y" y="41.1"/><use id="g7r2c1" href="#Y" x="13.65" y="41.1"/>
<use id="g7r3c0" href="#Y" y="54.7"/><use id="g7r3c1" href="#Y" x="13.65" y="54.7"/>
<use id="g7r4c0" href="#Y" y="68.3"/><use id="g7r4c1" href="#R" x="13.65" y="68.3"/>
<use id="g7r5c0" href="#Y" y="82"/>
<use id="g7r6c0" href="#Y" y="95.6"/>
</g>
</svg>
